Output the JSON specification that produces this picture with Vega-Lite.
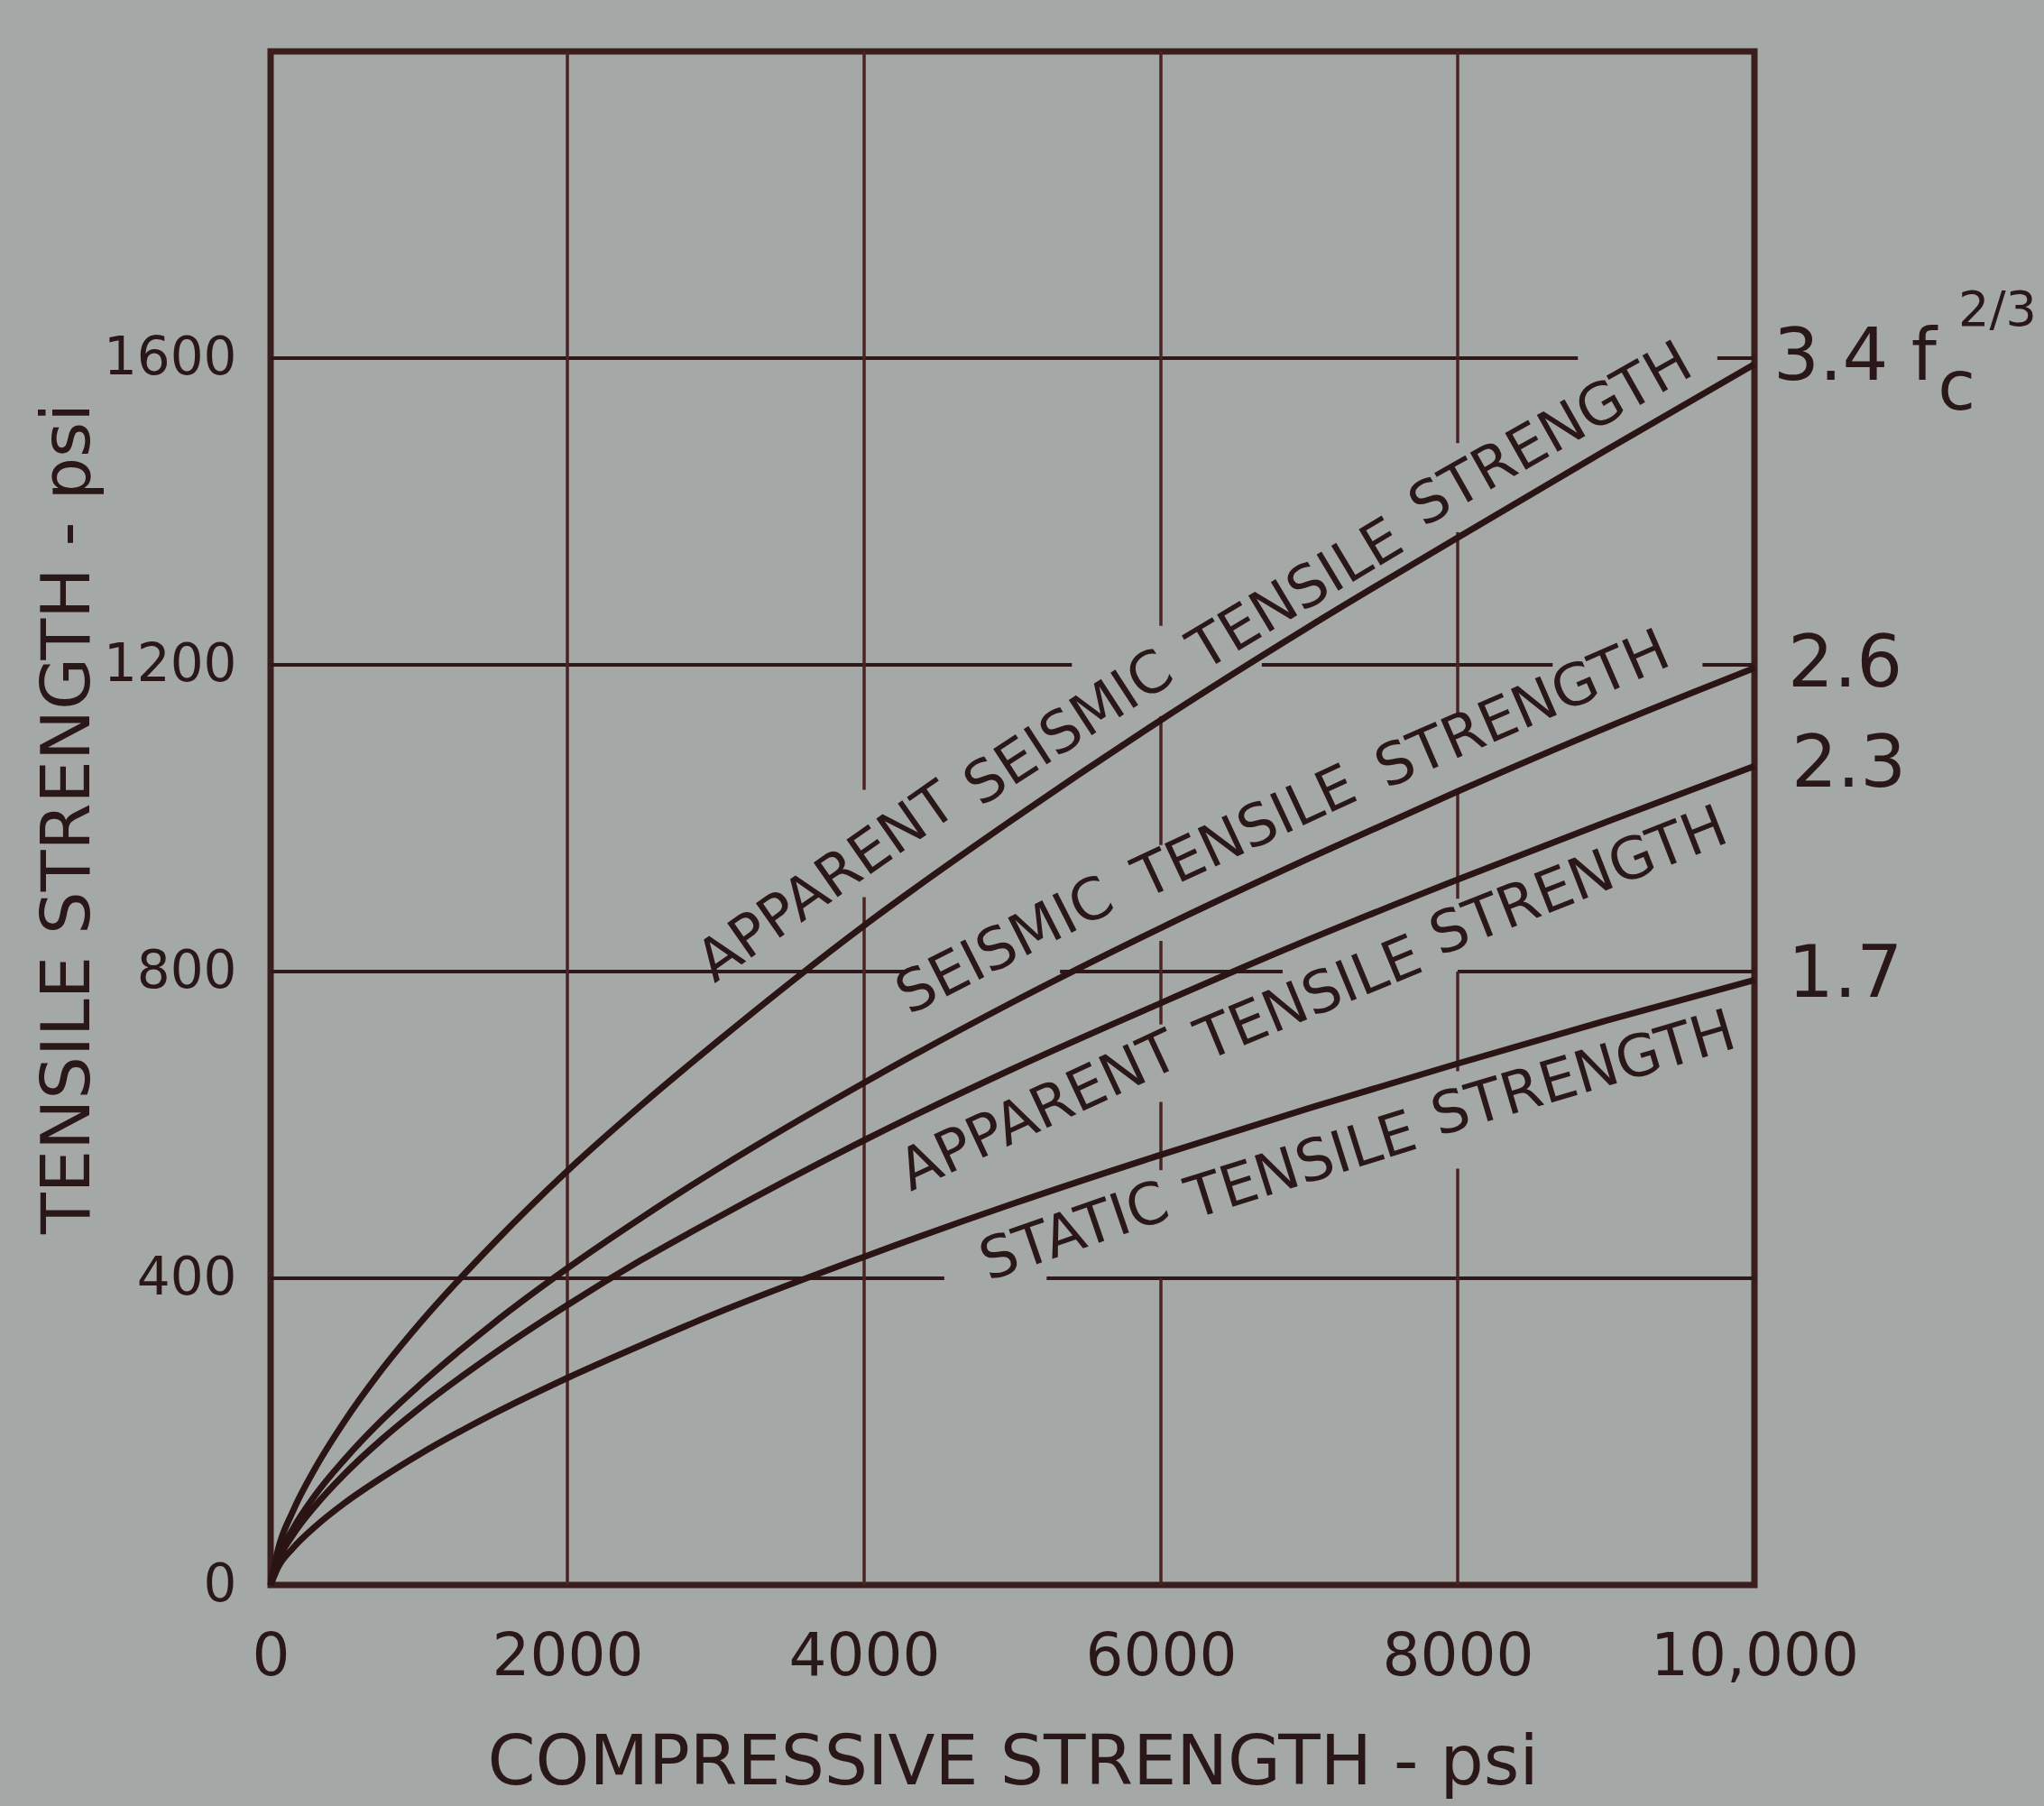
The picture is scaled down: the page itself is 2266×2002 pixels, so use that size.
{
  "$schema": "https://vega.github.io/schema/vega-lite/v6.json",
  "width": 1645,
  "height": 1700,
  "autosize": {"type": "none"},
  "padding": {"left": 300, "top": 57, "right": 321, "bottom": 245},
  "background": "#a4a9a7",
  "config": {
    "view": {"stroke": "#3a1d1d", "strokeWidth": 7},
    "font": "DejaVu Sans",
    "text": {"font": "DejaVu Sans", "color": "#2a1717"}
  },
  "datasets": {
    "curves": [
      {"k": "3.4", "x": 0, "y": 0}, {"k": "3.4", "x": 50, "y": 46}, {"k": "3.4", "x": 150, "y": 96}, {"k": "3.4", "x": 300, "y": 152},
      {"k": "3.4", "x": 500, "y": 214}, {"k": "3.4", "x": 750, "y": 281}, {"k": "3.4", "x": 1000, "y": 340}, {"k": "3.4", "x": 1500, "y": 445},
      {"k": "3.4", "x": 2000, "y": 540}, {"k": "3.4", "x": 2500, "y": 626}, {"k": "3.4", "x": 3000, "y": 707}, {"k": "3.4", "x": 4000, "y": 860},
      {"k": "3.4", "x": 5000, "y": 998}, {"k": "3.4", "x": 6000, "y": 1128}, {"k": "3.4", "x": 7000, "y": 1250}, {"k": "3.4", "x": 8000, "y": 1366},
      {"k": "3.4", "x": 9000, "y": 1480}, {"k": "3.4", "x": 10000, "y": 1592},
      {"k": "2.6", "x": 0, "y": 0}, {"k": "2.6", "x": 50, "y": 35}, {"k": "2.6", "x": 150, "y": 73}, {"k": "2.6", "x": 300, "y": 117},
      {"k": "2.6", "x": 500, "y": 164}, {"k": "2.6", "x": 750, "y": 215}, {"k": "2.6", "x": 1000, "y": 260}, {"k": "2.6", "x": 1500, "y": 341},
      {"k": "2.6", "x": 2000, "y": 413}, {"k": "2.6", "x": 2500, "y": 479}, {"k": "2.6", "x": 3000, "y": 541}, {"k": "2.6", "x": 4000, "y": 655},
      {"k": "2.6", "x": 5000, "y": 760}, {"k": "2.6", "x": 6000, "y": 857}, {"k": "2.6", "x": 7000, "y": 948}, {"k": "2.6", "x": 8000, "y": 1035},
      {"k": "2.6", "x": 9000, "y": 1118}, {"k": "2.6", "x": 10000, "y": 1196},
      {"k": "2.3", "x": 0, "y": 0}, {"k": "2.3", "x": 50, "y": 31}, {"k": "2.3", "x": 150, "y": 65}, {"k": "2.3", "x": 300, "y": 103},
      {"k": "2.3", "x": 500, "y": 145}, {"k": "2.3", "x": 750, "y": 190}, {"k": "2.3", "x": 1000, "y": 230}, {"k": "2.3", "x": 1500, "y": 301},
      {"k": "2.3", "x": 2000, "y": 365}, {"k": "2.3", "x": 2500, "y": 424}, {"k": "2.3", "x": 3000, "y": 478}, {"k": "2.3", "x": 4000, "y": 580},
      {"k": "2.3", "x": 5000, "y": 673}, {"k": "2.3", "x": 6000, "y": 759}, {"k": "2.3", "x": 7000, "y": 842}, {"k": "2.3", "x": 8000, "y": 920},
      {"k": "2.3", "x": 9000, "y": 995}, {"k": "2.3", "x": 10000, "y": 1068},
      {"k": "1.7", "x": 0, "y": 0}, {"k": "1.7", "x": 50, "y": 23}, {"k": "1.7", "x": 150, "y": 48}, {"k": "1.7", "x": 300, "y": 76},
      {"k": "1.7", "x": 500, "y": 107}, {"k": "1.7", "x": 750, "y": 140}, {"k": "1.7", "x": 1000, "y": 170}, {"k": "1.7", "x": 1500, "y": 223},
      {"k": "1.7", "x": 2000, "y": 270}, {"k": "1.7", "x": 2500, "y": 313}, {"k": "1.7", "x": 3000, "y": 354}, {"k": "1.7", "x": 4000, "y": 428},
      {"k": "1.7", "x": 5000, "y": 497}, {"k": "1.7", "x": 6000, "y": 561}, {"k": "1.7", "x": 7000, "y": 622}, {"k": "1.7", "x": 8000, "y": 680},
      {"k": "1.7", "x": 9000, "y": 736}, {"k": "1.7", "x": 10000, "y": 789}
    ],
    "hgrid": [
      {"y": 1600, "x": 0, "x2": 8810}, {"y": 1600, "x": 9750, "x2": 10000},
      {"y": 1200, "x": 0, "x2": 5400}, {"y": 1200, "x": 6680, "x2": 8640}, {"y": 1200, "x": 9650, "x2": 10000},
      {"y": 800, "x": 0, "x2": 4290}, {"y": 800, "x": 5320, "x2": 6820}, {"y": 800, "x": 8000, "x2": 10000},
      {"y": 400, "x": 0, "x2": 4540}, {"y": 400, "x": 5230, "x2": 10000}
    ],
    "vgrid": [
      {"x": 2000, "y": 0, "y2": 2000},
      {"x": 4000, "y": 0, "y2": 897}, {"x": 4000, "y": 1037, "y2": 2000},
      {"x": 6000, "y": 0, "y2": 400}, {"x": 6000, "y": 541, "y2": 630}, {"x": 6000, "y": 731, "y2": 840}, {"x": 6000, "y": 965, "y2": 1133}, {"x": 6000, "y": 1251, "y2": 2000},
      {"x": 8000, "y": 0, "y2": 543}, {"x": 8000, "y": 670, "y2": 800}, {"x": 8000, "y": 895, "y2": 1038}, {"x": 8000, "y": 1137, "y2": 1373}, {"x": 8000, "y": 1489, "y2": 2000}
    ]
  },
  "encoding": {
    "x": {
      "field": "x", "type": "quantitative",
      "scale": {"domain": [0, 10000], "nice": false, "zero": false},
      "axis": {
        "values": [0, 2000, 4000, 6000, 8000, 10000],
        "labelExpr": "datum.value == 10000 ? '10,000' : '' + datum.value",
        "title": "COMPRESSIVE STRENGTH - psi",
        "grid": false, "domain": false, "ticks": false,
        "labelFont": "DejaVu Sans", "labelFontSize": 66, "labelPadding": 47, "labelColor": "#2a1717", "labelFlush": false, "labelLimit": 0, "labelOverlap": false,
        "titleFont": "DejaVu Sans", "titleFontSize": 76, "titleFontWeight": "normal", "titleColor": "#2a1717", "titlePadding": 48
      }
    },
    "y": {
      "field": "y", "type": "quantitative",
      "scale": {"domain": [0, 2000], "nice": false, "zero": false},
      "axis": {
        "values": [0, 400, 800, 1200, 1600],
        "labelExpr": "'' + datum.value",
        "title": "TENSILE STRENGTH - psi",
        "grid": false, "domain": false, "ticks": false,
        "labelFont": "DejaVu Sans", "labelFontSize": 58, "labelPadding": 38, "labelColor": "#2a1717", "labelFlush": false, "labelLimit": 0,
        "titleFont": "DejaVu Sans", "titleFontSize": 75, "titleFontWeight": "normal", "titleColor": "#2a1717",
        "titleX": -225, "titleY": 850, "titleAlign": "center", "titleBaseline": "middle", "titleAngle": -90
      }
    }
  },
  "layer": [
    {"data": {"name": "hgrid"}, "mark": {"type": "rule", "color": "#2e1818", "strokeWidth": 4}, "encoding": {"x2": {"field": "x2"}}},
    {"data": {"name": "vgrid"}, "mark": {"type": "rule", "color": "#4a2424", "strokeWidth": 3.5}, "encoding": {"y2": {"field": "y2"}}},
    {"data": {"name": "curves"}, "mark": {"type": "line", "color": "#2a1414", "strokeWidth": 7, "interpolate": "monotone"}, "encoding": {"detail": {"field": "k"}}},
    {"data": {"values": [{"x": 3752, "y": 915, "t": "APPARENT"}]}, "mark": {"type": "text", "angle": -35, "fontSize": 64, "align": "center", "baseline": "middle"}, "encoding": {"text": {"field": "t"}}},
    {"data": {"values": [{"x": 5383, "y": 1116, "t": "SEISMIC"}]}, "mark": {"type": "text", "angle": -33, "fontSize": 64, "align": "center", "baseline": "middle"}, "encoding": {"text": {"field": "t"}}},
    {"data": {"values": [{"x": 6913, "y": 1290, "t": "TENSILE"}]}, "mark": {"type": "text", "angle": -31, "fontSize": 64, "align": "center", "baseline": "middle"}, "encoding": {"text": {"field": "t"}}},
    {"data": {"values": [{"x": 8630, "y": 1499, "t": "STRENGTH"}]}, "mark": {"type": "text", "angle": -29.5, "fontSize": 64, "align": "center", "baseline": "middle"}, "encoding": {"text": {"field": "t"}}},
    {"data": {"values": [{"x": 4952, "y": 832, "t": "SEISMIC"}]}, "mark": {"type": "text", "angle": -27, "fontSize": 64, "align": "center", "baseline": "middle"}, "encoding": {"text": {"field": "t"}}},
    {"data": {"values": [{"x": 6570, "y": 980, "t": "TENSILE"}]}, "mark": {"type": "text", "angle": -25, "fontSize": 64, "align": "center", "baseline": "middle"}, "encoding": {"text": {"field": "t"}}},
    {"data": {"values": [{"x": 8440, "y": 1140, "t": "STRENGTH"}]}, "mark": {"type": "text", "angle": -23.5, "fontSize": 64, "align": "center", "baseline": "middle"}, "encoding": {"text": {"field": "t"}}},
    {"data": {"values": [{"x": 5180, "y": 616, "t": "APPARENT"}]}, "mark": {"type": "text", "angle": -25, "fontSize": 64, "align": "center", "baseline": "middle"}, "encoding": {"text": {"field": "t"}}},
    {"data": {"values": [{"x": 7000, "y": 763, "t": "TENSILE"}]}, "mark": {"type": "text", "angle": -22.5, "fontSize": 64, "align": "center", "baseline": "middle"}, "encoding": {"text": {"field": "t"}}},
    {"data": {"values": [{"x": 8818, "y": 916, "t": "STRENGTH"}]}, "mark": {"type": "text", "angle": -21.5, "fontSize": 64, "align": "center", "baseline": "middle"}, "encoding": {"text": {"field": "t"}}},
    {"data": {"values": [{"x": 5419, "y": 459, "t": "STATIC"}]}, "mark": {"type": "text", "angle": -19, "fontSize": 64, "align": "center", "baseline": "middle"}, "encoding": {"text": {"field": "t"}}},
    {"data": {"values": [{"x": 6948, "y": 545, "t": "TENSILE"}]}, "mark": {"type": "text", "angle": -17.5, "fontSize": 64, "align": "center", "baseline": "middle"}, "encoding": {"text": {"field": "t"}}},
    {"data": {"values": [{"x": 8850, "y": 665, "t": "STRENGTH"}]}, "mark": {"type": "text", "angle": -16.5, "fontSize": 64, "align": "center", "baseline": "middle"}, "encoding": {"text": {"field": "t"}}},
    {"data": {"values": [
        {"x": 10128, "y": 1600, "t": "3.4 f"},
        {"x": 10225, "y": 1200, "t": "2.6"},
        {"x": 10249, "y": 1070, "t": "2.3"},
        {"x": 10225, "y": 795, "t": "1.7"}
      ]},
      "mark": {"type": "text", "fontSize": 80, "align": "left", "baseline": "middle"}, "encoding": {"text": {"field": "t"}}},
    {"data": {"values": [{"x": 11362, "y": 1533, "t": "c"}]}, "mark": {"type": "text", "fontSize": 76, "align": "center", "baseline": "alphabetic"}, "encoding": {"text": {"field": "t"}}},
    {"data": {"values": [{"x": 11374, "y": 1642, "t": "2/3"}]}, "mark": {"type": "text", "fontSize": 54, "align": "left", "baseline": "alphabetic"}, "encoding": {"text": {"field": "t"}}}
  ]
}
